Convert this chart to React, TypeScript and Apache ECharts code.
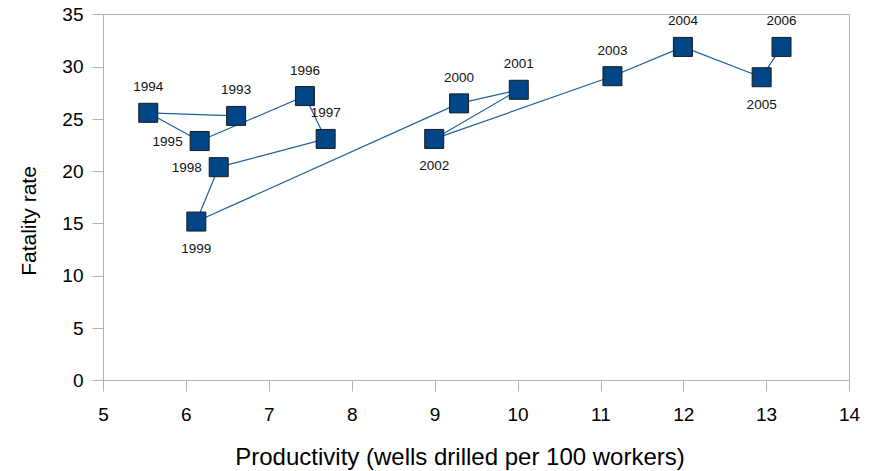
import React, { useEffect, useRef } from "react";
import * as echarts from "echarts";

const years = ["1993", "1994", "1995", "1996", "1997", "1998", "1999", "2000", "2001", "2002", "2003", "2004", "2005", "2006"];
const productivity = [6.6, 5.54, 6.16, 7.43, 7.68, 6.39, 6.12, 9.29, 10.01, 8.99, 11.14, 11.99, 12.94, 13.18];
const fatalityRate = [25.3, 25.6, 22.9, 27.2, 23.1, 20.4, 15.2, 26.5, 27.8, 23.1, 29.1, 31.9, 29.0, 31.9];
const labelSides = ["top", "top", "left", "top", "top", "left", "bottom", "top", "top", "bottom", "top", "top", "bottom", "top"];

const xTitle = "Productivity (wells drilled per 100 workers)";
const yTitle = "Fatality rate";

export default function App() {
  const ref = useRef<HTMLDivElement>(null);
  useEffect(() => {
    document.body.style.margin = "0";
    const chart = echarts.init(ref.current!, undefined, { renderer: "svg" });
    const font = "'Liberation Sans', Arial, sans-serif";
    const distFor = (p: string) => (p === "bottom" ? 10 : p === "left" ? 7 : 9);
    chart.setOption({
      animation: false,
      backgroundColor: "#ffffff",
      grid: {
        left: 103.5,
        right: 20.5,
        top: 14.5,
        bottom: 90.5,
        show: true,
        borderColor: "#b3b3b3",
        borderWidth: 1,
        backgroundColor: "transparent",
      },
      graphic: [
        {
          type: "text",
          x: 460,
          y: 456,
          style: {
            text: xTitle,
            fontFamily: font,
            fontSize: 24,
            fill: "#000",
            align: "center",
            verticalAlign: "middle",
          },
        },
        {
          type: "text",
          x: 28,
          y: 221,
          rotation: Math.PI / 2,
          style: {
            text: yTitle,
            fontFamily: font,
            fontSize: 21,
            fill: "#000",
            align: "center",
            verticalAlign: "middle",
          },
        },
      ],
      xAxis: {
        type: "value",
        min: 5,
        max: 14,
        interval: 1,
        axisLine: { show: true, lineStyle: { color: "#b3b3b3", width: 1 } },
        axisTick: { show: true, length: 11, lineStyle: { color: "#b3b3b3" } },
        axisLabel: { fontFamily: font, fontSize: 19, color: "#000", margin: 24 },
        splitLine: { show: false },
      },
      yAxis: {
        type: "value",
        min: 0,
        max: 35,
        interval: 5,
        axisLine: { show: true, lineStyle: { color: "#b3b3b3", width: 1 } },
        axisTick: { show: true, length: 11, lineStyle: { color: "#b3b3b3" } },
        axisLabel: { fontFamily: font, fontSize: 19, color: "#000", margin: 20 },
        splitLine: { show: false },
      },
      series: [
        {
          type: "line",
          data: years.map((yr, i) => ({
            value: [productivity[i], fatalityRate[i]],
            name: yr,
            label: {
              show: true,
              position: labelSides[i],
              distance: distFor(labelSides[i]),
              formatter: yr,
            },
          })),
          symbol: "rect",
          symbolSize: 19,
          showAllSymbol: true,
          lineStyle: { color: "#1f5f9f", width: 1.2 },
          itemStyle: { color: "#004586", borderColor: "#1a1a1a", borderWidth: 1 },
          label: { fontFamily: font, fontSize: 13.5, color: "#111" },
          emphasis: { disabled: true },
          z: 3,
        },
      ],
    });
    return () => chart.dispose();
  }, []);
  return <div ref={ref} style={{ width: 870, height: 471, position: "absolute", left: 0, top: 0 }} />;
}
